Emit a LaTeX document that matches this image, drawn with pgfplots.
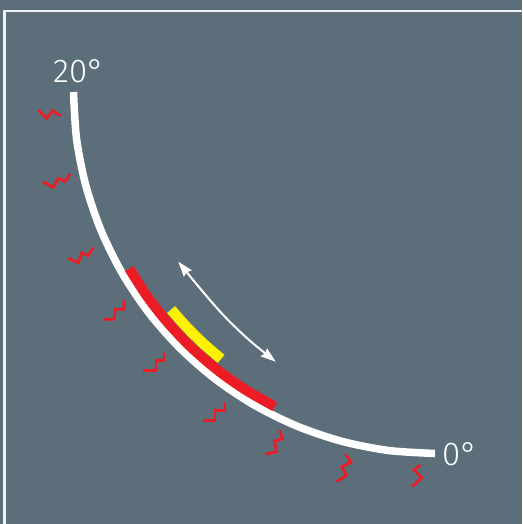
\documentclass[border=0pt]{standalone}
\usepackage{pgfplots}
\pgfplotsset{compat=1.18}
\usetikzlibrary{arrows.meta}
\usepackage{fontspec}
\setmainfont{Liberation Sans}
\newfontfamily\lightfont{Fira Sans Light}

\definecolor{slate}{RGB}{91,110,121}
\definecolor{heatred}{RGB}{237,28,36}
\definecolor{bandyellow}{RGB}{255,242,0}
\definecolor{framewhite}{RGB}{238,242,244}

\begin{document}
\begin{tikzpicture}
\begin{axis}[
  scale only axis,
  width=522pt, height=524pt,
  xmin=0, xmax=522, ymin=0, ymax=524,
  y dir=reverse,
  axis line style={draw=none},
  xtick=\empty, ytick=\empty,
  axis background/.style={fill=slate},
  no markers,
]
% frame (top and left edges only)
\addplot[framewhite, line width=2.2pt] coordinates {(4.5,530) (4.5,11) (530,11)};

% main arc, 20 deg (top) to 0 deg (right)
\addplot[white, line width=7.5pt, smooth] coordinates {
  (73.5,92) (76.59,139.19) (85.82,185.56) (101.02,230.34) (121.93,272.75)
  (148.20,312.07) (179.38,347.62) (214.93,378.80) (254.25,405.07)
  (296.66,425.98) (341.44,441.18) (387.81,450.41) (435,453.5)
};

% red band
\addplot[heatred, line width=10pt, smooth] coordinates {
  (129.3,268.5) (147.6,297.0) (168.6,323.6) (192.0,348.1)
  (217.7,370.2) (245.3,389.7) (274.7,406.5)
};

% yellow band
\addplot[bandyellow, line width=10.5pt, smooth] coordinates {
  (171.11,309.54) (186.92,327.42) (203.95,344.15) (221.17,358.91)
};

% double arrow
\addplot[white, line width=2pt, smooth,
  {Stealth[length=15pt,width=10pt,inset=1.5pt]}-{Stealth[length=15pt,width=10pt,inset=1.5pt]}]
  coordinates {(178.3,261.7) (201,289.5) (223.4,315.2) (248.5,339.5) (275.7,361.7)};

% heat squiggles
\addplot[heatred, line width=2.7pt] coordinates {(38.3,110) (46.7,118.3) (52.7,110.7) (60.7,116)};
\addplot[heatred, line width=2.7pt] coordinates {(42.7,181.7) (53.3,187.3) (58.3,178.3) (65,181.7) (70,174)};
\addplot[heatred, line width=2.7pt] coordinates {(68.3,258.3) (78.3,262.7) (81.7,252.7) (88.3,255.7) (93.3,247.3)};
\addplot[heatred, line width=2.7pt] coordinates {(103.3,319.3) (114.3,319.3) (115,309.3) (124,309.3) (124,300)};
\addplot[heatred, line width=2.7pt] coordinates {(143.3,370.7) (156,370.7) (156,360.7) (164,360.7) (164,351.7)};
\addplot[heatred, line width=2.7pt] coordinates {(203.3,420.7) (215,420.7) (215,410.7) (225,410.7) (225,401.7)};
\addplot[heatred, line width=2.7pt] coordinates {(265,454.3) (276.7,451.7) (274.3,441) (282.3,439) (280,430)};
\addplot[heatred, line width=2.7pt] coordinates {(336.7,481.7) (346.7,475) (341.7,466.7) (351,462.3) (345.7,454.3)};
\addplot[heatred, line width=2.7pt] coordinates {(412.3,486.7) (421.7,477.7) (414,470) (420,465)};

% labels
\node[anchor=base west, inner sep=0pt, text=white, font=\lightfont\fontsize{33}{33}\selectfont]
  at (axis cs:53,82.7) {20°};
\node[anchor=base west, inner sep=0pt, text=white, font=\lightfont\fontsize{33}{33}\selectfont]
  at (axis cs:442,465) {0°};
\end{axis}
\end{tikzpicture}
\end{document}
